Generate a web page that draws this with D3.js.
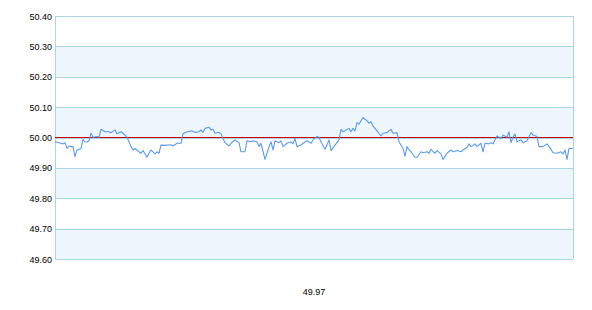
<!DOCTYPE html>
<html>
<head>
<meta charset="utf-8">
<script src="https://cdnjs.cloudflare.com/ajax/libs/d3/7.8.5/d3.min.js"></script>
<style>
	body { margin: 0; background: #fff; }
	#chart text { font-family: "Liberation Sans", Arial, sans-serif; font-size: 9px; fill: #000; }
</style>
</head>
<body>
<div id="chart"></div>
<script>
// sample number along the x axis, and the reading at that sample
const samples = [0, 3, 4, 5, 6, 7, 8, 9, 10, 11, 13, 14, 15, 16, 17, 18, 19, 21, 22, 23, 25, 27, 28, 30, 31, 33, 34, 36, 38, 39,
	40, 42, 43, 44, 46, 47, 48, 50, 51, 52, 53, 55, 58, 59, 61, 63, 64, 66, 67, 68, 70, 72, 73, 74, 75, 77, 78, 79, 80, 82,
	83, 85, 87, 88, 90, 92, 93, 95, 96, 98, 99, 101, 102, 103, 105, 106, 107, 108, 109, 110, 112, 113, 114, 116, 118, 119, 120, 121, 123, 124,
	126, 128, 129, 131, 132, 133, 135, 137, 138, 140, 142, 143, 144, 145, 147, 148, 149, 150, 151, 152, 154, 155, 156, 157, 158, 159, 161, 163, 164, 166,
	168, 169, 171, 172, 174, 175, 176, 177, 178, 180, 181, 183, 184, 186, 187, 188, 190, 191, 193, 194, 196, 198, 199, 201, 203, 204, 206, 207, 208, 210,
	211, 213, 214, 215, 217, 218, 219, 221, 223, 224, 226, 227, 228, 229, 230, 231, 233, 234, 236, 238, 239, 241, 242, 244, 246, 248, 249, 251, 253, 254,
	255, 256, 257, 259];
const readings = [49.986, 49.981, 49.979, 49.983, 49.964, 49.972, 49.970, 49.970, 49.937, 49.959, 49.964, 49.994, 49.986, 49.985, 49.989, 50.014, 50.001, 50.003, 50.001, 50.027, 50.019, 50.019, 50.016, 50.025, 50.012, 50.019, 50.014, 50.001, 49.970, 49.959,
	49.964, 49.953, 49.948, 49.957, 49.935, 49.948, 49.959, 49.946, 49.953, 49.948, 49.975, 49.974, 49.976, 49.972, 49.981, 49.981, 50.012, 50.019, 50.019, 50.022, 50.017, 50.019, 50.025, 50.017, 50.030, 50.034, 50.025, 50.027, 50.014, 50.017,
	50.012, 49.983, 49.972, 49.981, 49.992, 49.983, 49.953, 49.953, 49.989, 49.986, 49.989, 49.986, 49.970, 49.981, 49.928, 49.948, 49.970, 49.986, 49.959, 49.989, 49.983, 49.989, 49.970, 49.981, 49.986, 49.979, 49.997, 49.970, 49.975, 49.981,
	49.989, 49.981, 49.992, 50.003, 50.001, 49.986, 49.961, 49.992, 49.957, 49.975, 49.992, 50.027, 50.019, 50.022, 50.030, 50.019, 50.030, 50.022, 50.049, 50.044, 50.066, 50.060, 50.055, 50.047, 50.052, 50.038, 50.022, 50.005, 50.014, 50.016,
	50.027, 50.014, 50.016, 49.986, 49.964, 49.939, 49.970, 49.959, 49.953, 49.935, 49.935, 49.953, 49.950, 49.953, 49.948, 49.961, 49.948, 49.957, 49.946, 49.928, 49.948, 49.959, 49.953, 49.957, 49.953, 49.959, 49.968, 49.979, 49.970, 49.979,
	49.970, 49.981, 49.953, 49.981, 49.979, 49.983, 49.979, 50.005, 49.997, 50.008, 50.001, 50.019, 49.983, 50.001, 50.012, 49.986, 49.992, 49.983, 49.989, 50.016, 50.008, 50.003, 49.970, 49.970, 49.979, 49.961, 49.950, 49.948, 49.953, 49.946,
	49.959, 49.928, 49.964, 49.964];
const yTicks = [49.60, 49.70, 49.80, 49.90, 50.00, 50.10, 50.20, 50.30, 50.40];
const referenceValue = 50.00;
const summaryLabel = '49.97';

const init = () => {
	const outerW = 592, outerH = 310;
	const margin = { top: 16, right: 19, bottom: 51, left: 55 },
		width = outerW - margin.left - margin.right,
		height = outerH - margin.top - margin.bottom;

	const svg = d3
		.select('#chart')
		.append('svg')
		.attr('width', outerW)
		.attr('height', outerH)
		.append('g')
		.attr('transform', `translate(${margin.left}, ${margin.top})`);

	const x = d3.scaleLinear().domain([0, d3.max(samples)]).range([0, width]);
	const y = d3.scaleLinear().domain([d3.min(yTicks), d3.max(yTicks)]).range([height, 0]);

	// alternating bands, every other interval shaded
	const bands = d3.pairs(yTicks).filter((d, i) => i % 2 === 0);
	svg.append('g')
		.selectAll('rect')
		.data(bands)
		.enter()
		.append('rect')
		.attr('x', 0)
		.attr('width', width)
		.attr('y', (d) => y(d[1]))
		.attr('height', (d) => y(d[0]) - y(d[1]))
		.attr('fill', '#eef6fd');

	// grid + labels via the axis
	svg.append('g')
		.call(d3.axisLeft(y).tickValues(yTicks).tickSize(-width).tickPadding(3).tickFormat(d3.format('.2f')))
		.call((g) => g.select('.domain').remove())
		.call((g) => g.selectAll('.tick line').attr('stroke', '#a9d6e3').attr('shape-rendering', 'crispEdges'))
		.call((g) => g.selectAll('.tick text').attr('fill', '#000').attr('dy', '0.34em'));

	// side borders
	svg.append('g')
		.selectAll('line')
		.data([0, width])
		.enter()
		.append('line')
		.attr('x1', (d) => d).attr('x2', (d) => d)
		.attr('y1', 0).attr('y2', height)
		.attr('stroke', '#a9d6e3')
		.attr('shape-rendering', 'crispEdges');

	// reference line
	svg.append('line')
		.attr('x1', 0).attr('x2', width)
		.attr('y1', y(referenceValue)).attr('y2', y(referenceValue))
		.attr('stroke', '#d00000')
		.attr('shape-rendering', 'crispEdges');

	const series = samples.map((s, i) => ({ s: s, v: readings[i] }));
	const line = d3.line().x((d) => x(d.s)).y((d) => y(d.v));
	svg.append('path')
		.datum(series)
		.attr('d', line)
		.attr('fill', 'none')
		.attr('stroke', '#5a9af0')
		.attr('stroke-width', 1.1)
		.attr('stroke-linejoin', 'round');

	svg.append('text')
		.attr('x', width / 2)
		.attr('y', height + 36)
		.attr('text-anchor', 'middle')
		.text(summaryLabel);
};

init();
</script>
</body>
</html>
